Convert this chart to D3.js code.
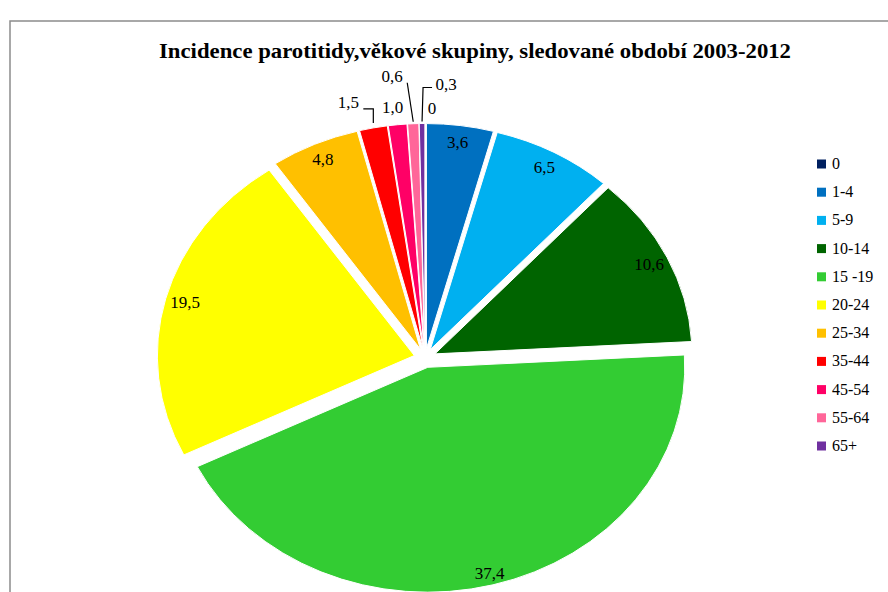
<!DOCTYPE html>
<html>
<head>
<meta charset="utf-8">
<script src="https://cdn.jsdelivr.net/npm/d3@7"></script>
<style>
  body { margin: 0; background: #fff; }
  svg { display: block; }
  text { font-family: "Liberation Serif", "DejaVu Serif", serif; fill: #000; }
</style>
</head>
<body>
<div id="chart"></div>
<script>
// age groups and incidence values (per 100 000)
const categories = ["0", "1-4", "5-9", "10-14", "15 -19", "20-24", "25-34", "35-44", "45-54", "55-64", "65+"];
const values = [0, 3.6, 6.5, 10.6, 37.4, 19.5, 4.8, 1.5, 1.0, 0.6, 0.3];
const labels = ["0", "3,6", "6,5", "10,6", "37,4", "19,5", "4,8", "1,5", "1,0", "0,6", "0,3"];
const colors = ["#002060", "#0070c0", "#00b0f0", "#006400", "#33cc33", "#ffff00", "#ffc000", "#ff0000", "#ff0066", "#ff6699", "#7030a0"];
const title = "Incidence parotitidy,věkové skupiny, sledované období 2003-2012";

const width = 888, height = 592;
const serif = "Liberation Serif";

// pie geometry (ellipse squashed vertically like the original)
const cx = 425, cy = 358, R = 257, sy = 0.875, explode = 11;

// outside labels for the thin slices: offset from arc edge, optional leader
const outside = {
  "0":     {lx: 7,   ly: -15},
  "45-54": {lx: -5,  ly: -17},
  "35-44": {lx: -25, ly: -25, leader: [[0, -5], [0, -19], [-10, -19]]},
  "55-64": {lx: -21, ly: -47, leader: [[0, -2], [-6, -41]]},
  "65+":   {lx: 24,  ly: -39, leader: [[0, -2], [1, -36], [10, -36]]}
};

const svg = d3.select("#chart").append("svg")
  .attr("width", width)
  .attr("height", height)
  .attr("font-family", serif);

// frame of the chart area
svg.append("rect")
  .attr("x", 10).attr("y", 21)
  .attr("width", width + 20).attr("height", height + 20)
  .attr("fill", "none")
  .attr("stroke", "#8c8c8c")
  .attr("stroke-width", 1.5);

// title
svg.append("text")
  .attr("x", 475).attr("y", 58)
  .attr("text-anchor", "middle")
  .attr("font-family", serif)
  .attr("font-size", 21)
  .attr("font-weight", "bold")
  .attr("textLength", 632)
  .attr("lengthAdjust", "spacingAndGlyphs")
  .text(title);

const data = categories.map((c, i) => ({cat: c, value: values[i], label: labels[i], color: colors[i]}));

const pie = d3.pie().sort(null).value(d => d.value).startAngle(0).endAngle(2 * Math.PI);
const arcs = pie(data);
const arc = d3.arc().innerRadius(0).outerRadius(R);

// screen position for angle a and radius r around exploded slice centre
function pos(d, r) {
  let a = (d.startAngle + d.endAngle) / 2;
  let ox = cx + explode * Math.sin(a);
  let oy = cy - explode * Math.cos(a) * sy;
  return [ox + r * Math.sin(a), oy - r * Math.cos(a) * sy];
}

const g = svg.append("g")
  .attr("transform", `translate(${cx},${cy}) scale(1,${sy})`);

g.selectAll("path.slice")
  .data(arcs.filter(d => d.value > 0))
  .enter()
  .append("path")
  .attr("class", "slice")
  .attr("transform", d => {
    let a = (d.startAngle + d.endAngle) / 2;
    return `translate(${explode * Math.sin(a)},${-explode * Math.cos(a)})`;
  })
  .attr("d", arc)
  .attr("fill", d => d.data.color)
  .attr("stroke", "#fff")
  .attr("stroke-width", 1)
  .attr("vector-effect", "non-scaling-stroke");

// labels inside the big slices
arcs.filter(d => !outside[d.data.cat]).forEach(d => {
  let big = (d.endAngle - d.startAngle) > 2.5;
  let p = pos(d, big ? R - 13 : R - 20);
  svg.append("text")
    .attr("x", p[0]).attr("y", p[1] + 5)
    .attr("text-anchor", "middle")
    .attr("font-family", serif)
    .attr("font-size", 17)
    .text(d.data.label);
});

// labels and leaders of the thin slices
arcs.filter(d => outside[d.data.cat]).forEach(d => {
  let o = outside[d.data.cat];
  let p = pos(d, R);
  if (o.leader) {
    svg.append("path")
      .attr("d", d3.line()(o.leader.map(q => [p[0] + q[0], p[1] + q[1]])))
      .attr("fill", "none")
      .attr("stroke", "#000")
      .attr("stroke-width", 1.2);
  }
  svg.append("text")
    .attr("x", p[0] + o.lx).attr("y", p[1] + o.ly + 5)
    .attr("text-anchor", "middle")
    .attr("font-family", serif)
    .attr("font-size", 17)
    .text(d.data.label);
});

// legend
const legend = svg.append("g").attr("transform", "translate(817,164)");
const item = legend.selectAll("g")
  .data(data)
  .enter()
  .append("g")
  .attr("transform", (d, i) => `translate(0,${i * 28.2})`);

item.append("rect")
  .attr("x", 0).attr("y", -4.5)
  .attr("width", 9).attr("height", 9)
  .attr("fill", d => d.color);

item.append("text")
  .attr("x", 15).attr("y", 5)
  .attr("font-family", serif)
  .attr("font-size", 16)
  .text(d => d.cat);
</script>
</body>
</html>
